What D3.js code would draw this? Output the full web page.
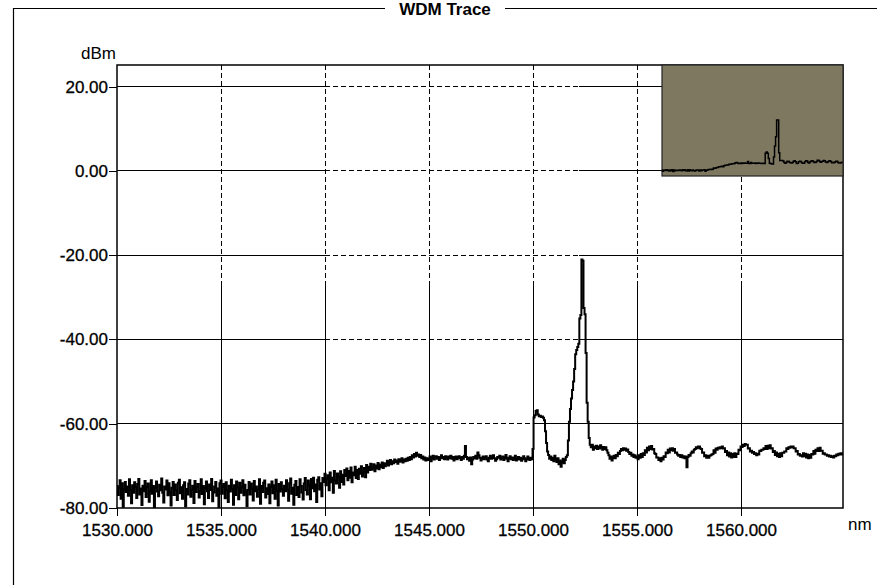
<!DOCTYPE html>
<html>
<head>
<meta charset="utf-8">
<script src="https://cdn.jsdelivr.net/npm/d3@7"></script>
<style>
  body { margin: 0; background: #fff; }
  svg text { font-family: "Liberation Sans", Arial, sans-serif; font-size: 17px; fill: #000; }
</style>
</head>
<body>
<div id="chart"></div>
<script>
// trace sampled every 0.05 nm from 1530.00 nm
var startNm = 1530, stepNm = 0.05;
var traceDbm = [
  -74.8,-76.9,-75.2,-73.4,-77.8,-74.1,-79.7,-75.6,-73.8,-76.2,-74.9,-77.1,-73.2,-75.7,-78.9,-74.6,-76.4,-73.9,-75.1,-77.6,
  -74.3,-73.1,-76.8,-75.4,-79.3,-74.7,-76.0,-73.6,-77.4,-75.0,-74.2,-78.5,-75.9,-73.4,-76.6,-74.8,-79.8,-75.3,-73.7,-76.1,
  -77.2,-74.5,-75.8,-73.0,-76.4,-78.7,-74.9,-75.6,-73.5,-77.0,-74.1,-76.3,-79.4,-75.2,-73.8,-76.9,-74.4,-75.7,-78.1,-74.0,
  -73.3,-76.5,-75.1,-77.8,-74.6,-73.9,-79.6,-75.5,-76.8,-74.2,-73.4,-77.3,-75.8,-74.7,-78.8,-73.6,-76.2,-75.0,-74.3,-77.5,
  -75.9,-73.2,-76.7,-74.8,-79.1,-75.3,-73.7,-76.0,-77.6,-74.4,-75.7,-73.1,-78.4,-76.3,-74.9,-73.8,-77.1,-75.4,-79.9,-74.1,
  -73.5,-76.6,-75.0,-74.3,-77.7,-73.9,-75.8,-78.6,-74.7,-76.1,-73.3,-75.5,-79.2,-74.6,-76.9,-73.7,-75.2,-77.9,-74.0,-76.4,
  -75.1,-73.4,-77.0,-74.5,-76.3,-79.5,-75.7,-73.8,-76.8,-74.2,-75.4,-78.2,-73.6,-76.0,-74.9,-77.3,-75.6,-73.2,-79.0,-74.8,
  -76.2,-74.0,-73.5,-77.5,-75.3,-76.7,-74.4,-78.9,-75.0,-73.7,-76.5,-74.6,-77.8,-73.3,-75.9,-79.4,-74.3,-76.1,-73.9,-75.5,
  -77.1,-74.7,-76.0,-73.4,-75.6,-78.3,-74.1,-73.0,-76.6,-75.2,-79.2,-74.5,-73.6,-76.9,-75.0,-77.4,-73.2,-74.8,-76.3,-78.0,
  -74.2,-72.9,-75.7,-76.8,-73.5,-74.6,-77.9,-73.1,-75.3,-72.8,-76.0,-74.4,-78.6,-73.3,-72.7,-75.6,-74.1,-77.2,-72.9,-73.8,
  -71.9,-74.6,-73.0,-72.2,-75.8,-71.6,-73.9,-72.8,-76.4,-71.2,-73.5,-74.2,-71.8,-72.6,-75.2,-71.3,-73.8,-72.1,-74.4,-71.0,
  -72.4,-70.6,-73.4,-71.2,-72.8,-70.4,-73.9,-71.6,-72.2,-70.2,-72.9,-71.0,-73.1,-70.7,-71.9,-70.1,-72.5,-71.4,-70.5,-72.7,
  -69.8,-71.6,-70.2,-71.0,-69.5,-70.9,-70.4,-69.6,-71.3,-69.9,-70.6,-69.3,-70.8,-69.7,-70.3,-69.2,-70.5,-69.4,-70.1,-69.6,
  -68.8,-69.9,-69.2,-68.6,-69.6,-68.9,-69.4,-68.5,-69.1,-68.7,-69.5,-68.4,-69.0,-68.6,-68.2,-69.2,-68.5,-68.9,-68.3,-68.8,
  -68.1,-68.6,-67.9,-68.4,-67.5,-68.0,-67.2,-67.8,-66.9,-67.6,-67.3,-67.9,-67.4,-68.2,-67.8,-68.5,-68.0,-68.7,-68.2,-68.6,
  -68.4,-67.8,-68.9,-68.2,-67.6,-68.5,-68.0,-67.7,-68.3,-67.9,-68.6,-68.1,-67.5,-68.2,-67.9,-68.4,-67.7,-68.0,-68.5,-67.8,
  -68.2,-67.6,-68.3,-67.9,-68.7,-68.1,-67.8,-68.4,-68.0,-67.7,-68.2,-68.6,-67.9,-68.3,-67.6,-65.3,-67.9,-68.4,-68.1,-68.8,
  -68.0,-69.6,-68.5,-67.9,-68.2,-67.6,-68.3,-66.8,-67.5,-68.1,-68.7,-68.2,-67.8,-68.4,-68.0,-67.7,-68.5,-68.9,-68.1,-67.6,
  -68.3,-68.0,-67.5,-68.2,-68.8,-68.4,-67.9,-68.1,-67.6,-68.5,-68.2,-67.8,-68.6,-68.0,-67.4,-68.3,-68.9,-68.1,-67.7,-68.4,
  -68.0,-68.6,-68.2,-67.6,-68.7,-68.3,-67.9,-68.5,-68.1,-68.8,-68.4,-67.7,-68.2,-68.9,-68.5,-67.8,-68.3,-68.6,-68.1,-68.4,
  -66.0,-58.5,-58.0,-57.0,-56.8,-57.8,-58.2,-58.1,-58.4,-58.3,-58.6,-59.2,-61.8,-64.6,-66.6,-67.4,-68.3,-67.8,-68.6,-68.1,
  -68.9,-67.6,-68.4,-69.1,-68.2,-69.6,-68.7,-70.2,-69.0,-68.3,-69.4,-68.6,-67.9,-67.5,-64.0,-59.5,-56.5,-54.0,-52.0,-50.0,
  -47.0,-43.5,-42.5,-41.8,-41.0,-35.0,-34.2,-21.0,-21.3,-32.5,-34.0,-43.2,-55.0,-59.5,-63.4,-65.0,-65.6,-65.0,-66.2,-65.4,
  -65.8,-65.2,-66.0,-65.4,-65.9,-65.1,-65.6,-66.2,-65.5,-66.0,-65.6,-66.3,-66.9,-67.5,-68.3,-67.8,-68.7,-68.1,-67.6,-68.2,
  -67.4,-67.7,-66.9,-67.2,-66.5,-66.0,-66.3,-65.8,-66.2,-65.9,-66.4,-66.1,-66.7,-67.2,-66.9,-67.6,-67.3,-67.9,-67.5,-68.1,
  -67.8,-68.4,-67.5,-68.1,-67.2,-67.9,-67.0,-67.4,-66.3,-66.8,-65.7,-66.3,-65.4,-66.0,-65.3,-66.1,-66.0,-67.0,-67.2,-68.0,
  -68.0,-68.6,-68.2,-68.9,-68.1,-68.5,-67.7,-67.9,-66.8,-67.0,-66.2,-66.8,-65.9,-66.3,-65.8,-66.4,-66.0,-66.9,-66.8,-67.3,
  -67.6,-67.4,-67.9,-67.5,-68.0,-67.7,-68.2,-67.8,-70.3,-67.9,-67.4,-67.6,-67.0,-66.6,-66.8,-66.2,-66.0,-65.6,-65.8,-65.4,
  -65.4,-65.9,-66.0,-66.9,-66.8,-67.7,-67.5,-68.1,-67.6,-68.1,-67.6,-67.5,-67.3,-67.2,-66.3,-66.9,-65.9,-66.2,-65.7,-65.9,
  -65.6,-65.8,-65.4,-65.9,-65.8,-66.7,-66.5,-67.5,-66.8,-67.8,-67.0,-68.0,-67.2,-67.9,-67.0,-67.9,-67.1,-67.2,-66.2,-66.3,
  -65.4,-65.5,-65.0,-65.3,-64.8,-65.0,-65.0,-65.9,-65.8,-66.6,-66.4,-66.9,-66.7,-67.2,-67.0,-67.5,-67.1,-67.3,-66.4,-66.5,
  -66.2,-66.2,-65.8,-66.0,-65.3,-66.0,-65.2,-65.8,-65.1,-65.9,-65.8,-66.7,-66.5,-67.4,-66.8,-67.7,-67.1,-67.9,-67.0,-67.7,
  -66.9,-66.9,-66.6,-66.6,-65.8,-66.0,-65.6,-65.7,-65.4,-65.6,-65.4,-65.8,-65.8,-66.6,-66.5,-67.3,-67.2,-67.6,-67.5,-67.8,
  -67.0,-67.7,-67.1,-68.0,-67.3,-68.2,-67.4,-68.1,-67.2,-67.3,-66.5,-67.1,-66.2,-66.5,-65.8,-66.5,-65.7,-66.4,-66.4,-67.1,
  -67.0,-67.3,-67.3,-67.6,-67.5,-67.8,-67.6,-67.9,-67.7,-68.0,-67.6,-67.7,-67.3,-67.5,-67.1,-67.3,-67.0,-67.3,-67.1
];
var xTicks = [1530, 1535, 1540, 1545, 1550, 1555, 1560];
var yTicks = [20, 0, -20, -40, -60, -80];
var xDomain = [1530, 1564.9];
var yDomain = [-80, 25.15];
var titleText = "WDM Trace", yUnit = "dBm", xUnit = "nm";

// layout
var W = 877, H = 585;
var margin = {top: 65, left: 117};
var width = 726, height = 443;
var inset = {x: 662, y: 65, w: 181, h: 111};

var data = traceDbm.map(function(v, i) { return {nm: startNm + i * stepNm, dbm: v}; });

var svg = d3.select("#chart").append("svg")
    .attr("width", W).attr("height", H);

// outer frame with title gap
svg.append("path")
    .attr("d", "M13.5,600V8.5H385M505,8.5H900")
    .attr("fill", "none").attr("stroke", "#000").attr("stroke-width", 1.2);
svg.append("text").attr("x", 445).attr("y", 15).attr("text-anchor", "middle")
    .attr("font-weight", "bold").text(titleText);

var g = svg.append("g").attr("transform", "translate(" + margin.left + "," + margin.top + ")");

var x = d3.scaleLinear().domain(xDomain).range([0, width]);
var y = d3.scaleLinear().domain(yDomain).range([height, 0]);

// grid: vertical lines dashed at the top, solid at the bottom
var vSplit = -26.6;
var grid = g.append("g").attr("stroke", "#000").attr("stroke-width", 1).attr("shape-rendering", "crispEdges");
xTicks.slice(1).forEach(function(t) {
  grid.append("line").attr("x1", x(t)).attr("x2", x(t)).attr("y1", 0).attr("y2", y(vSplit))
      .attr("stroke-dasharray", "5,3");
  grid.append("line").attr("x1", x(t)).attr("x2", x(t)).attr("y1", y(vSplit)).attr("y2", height);
});
// horizontal lines: solid, dashed middle part, solid
yTicks.slice(0, -1).forEach(function(t) {
  var dashEnd = t === -60 ? 1550 : 1552.2;
  grid.append("line").attr("x1", 0).attr("x2", x(1540)).attr("y1", y(t)).attr("y2", y(t));
  grid.append("line").attr("x1", x(1540)).attr("x2", x(dashEnd)).attr("y1", y(t)).attr("y2", y(t))
      .attr("stroke-dasharray", "5,3");
  grid.append("line").attr("x1", x(dashEnd)).attr("x2", width).attr("y1", y(t)).attr("y2", y(t));
});

// trace
g.append("clipPath").attr("id", "clip").append("rect").attr("width", width).attr("height", height);
var line = d3.line().curve(d3.curveStep)
    .x(function(d) { return x(d.nm); })
    .y(function(d) { return y(d.dbm); });
g.append("path").datum(data)
    .attr("clip-path", "url(#clip)")
    .attr("fill", "none").attr("stroke", "#000").attr("stroke-width", 2)
    .attr("d", line);

// axes
var yAxis = d3.axisLeft(y).tickValues(yTicks).tickSize(8).tickPadding(1)
    .tickFormat(function(d) { return d.toFixed(2); });
var xAxis = d3.axisBottom(x).tickValues(xTicks).tickSize(8).tickPadding(8)
    .tickFormat(function(d) { return d.toFixed(3); });
var ya = g.append("g").call(yAxis);
var xa = g.append("g").attr("transform", "translate(0," + height + ")").call(xAxis);
[ya, xa].forEach(function(a) {
  a.select(".domain").remove();
  a.selectAll("line").attr("stroke", "#000").attr("stroke-width", 1).attr("shape-rendering", "crispEdges");
  a.selectAll("text").attr("font-family", null).attr("font-size", null).attr("fill", null)
      .attr("stroke", "#000").attr("stroke-width", 0.3);
});

g.append("rect").attr("width", width).attr("height", height)
    .attr("fill", "none").attr("stroke", "#000").attr("stroke-width", 1.5);

g.append("text").attr("x", -1).attr("y", -6).attr("text-anchor", "end").text(yUnit);
g.append("text").attr("x", width + 5).attr("y", height + 22).text(xUnit);

// inset overview: 4 samples per step, biased toward the upper envelope
var xi = d3.scaleLinear().domain(xDomain).range([inset.x, inset.x + inset.w]);
var yi = d3.scaleLinear().domain(yDomain).range([inset.y + inset.h, inset.y]);
var binned = [];
for (var i = 0; i < data.length; i += 4) {
  var chunk = data.slice(i, i + 4);
  var avg = d3.mean(chunk, function(d) { return d.dbm; });
  var peak = d3.max(chunk, function(d) { return d.dbm; });
  binned.push({nm: chunk[0].nm, dbm: avg + (peak - avg) * 0.5});
}
svg.append("rect").attr("x", inset.x).attr("y", inset.y).attr("width", inset.w).attr("height", inset.h)
    .attr("fill", "#7f7861").attr("stroke", "#222").attr("stroke-width", 1.2);
svg.append("path").datum(binned)
    .attr("fill", "none").attr("stroke", "#000").attr("stroke-width", 1.5)
    .attr("d", d3.line().curve(d3.curveStep)
      .x(function(d) { return xi(d.nm); })
      .y(function(d) { return yi(d.dbm); }));
</script>
</body>
</html>
